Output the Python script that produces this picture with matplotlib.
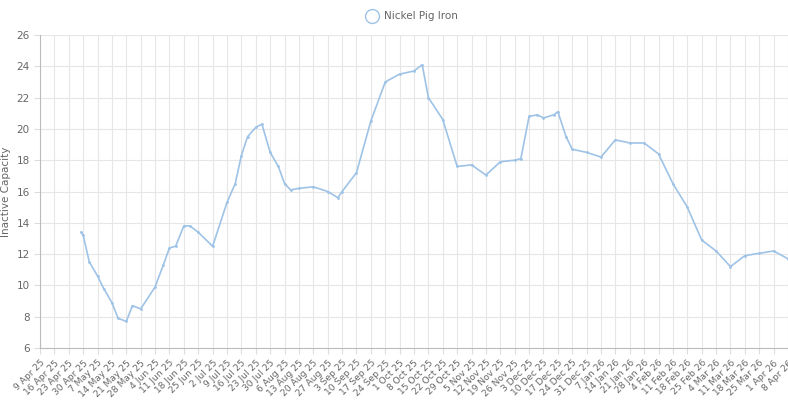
import matplotlib.pyplot as plt
import pandas as pd

dates = ['2025-04-29', '2025-04-30', '2025-05-03', '2025-05-07', '2025-05-10', '2025-05-14', '2025-05-17',
         '2025-05-21', '2025-05-24', '2025-05-28', '2025-06-04', '2025-06-08', '2025-06-11', '2025-06-14',
         '2025-06-18', '2025-06-21', '2025-06-25', '2025-07-02', '2025-07-09', '2025-07-13', '2025-07-16',
         '2025-07-19', '2025-07-23', '2025-07-26', '2025-07-30', '2025-08-03', '2025-08-06', '2025-08-09',
         '2025-08-13', '2025-08-20', '2025-08-27', '2025-09-01', '2025-09-03', '2025-09-10', '2025-09-17',
         '2025-09-24', '2025-10-01', '2025-10-08', '2025-10-12', '2025-10-15', '2025-10-22', '2025-10-29',
         '2025-11-05', '2025-11-12', '2025-11-19', '2025-11-26', '2025-11-29', '2025-12-03', '2025-12-07',
         '2025-12-10', '2025-12-15', '2025-12-17', '2025-12-21', '2025-12-24', '2025-12-31', '2026-01-07',
         '2026-01-14', '2026-01-21', '2026-01-28', '2026-02-04', '2026-02-11', '2026-02-18', '2026-02-25',
         '2026-03-04', '2026-03-11', '2026-03-18', '2026-03-25', '2026-04-01', '2026-04-08']
values = [13.4, 13.2, 11.5, 10.6, 9.8, 8.9, 7.9,
          7.7, 8.7, 8.5, 9.9, 11.3, 12.4, 12.5,
          13.8, 13.8, 13.4, 12.5, 15.3, 16.5, 18.3,
          19.5, 20.1, 20.3, 18.5, 17.6, 16.5, 16.1,
          16.2, 16.3, 16.0, 15.6, 16.0, 17.2, 20.5,
          23.0, 23.5, 23.7, 24.1, 22.0, 20.6, 17.6,
          17.7, 17.05, 17.9, 18.0, 18.1, 20.8, 20.9,
          20.7, 20.9, 21.1, 19.5, 18.7, 18.5, 18.2,
          19.3, 19.1, 19.1, 18.4, 16.5, 15.0, 12.9,
          12.2, 11.2, 11.9, 12.05, 12.2, 11.7]

start = pd.Timestamp('2025-04-09')
x = [(pd.Timestamp(d) - start).days for d in dates]
tick_dates = pd.date_range('2025-04-09', '2026-04-08', freq='7D')
tick_pos = [(d - start).days for d in tick_dates]
tick_labels = [f'{d.day} {d.strftime("%b")} {d.strftime("%y")}' for d in tick_dates]

fig = plt.figure(figsize=(7.88, 4), dpi=100)
ax = fig.add_axes([40 / 788, 52 / 400, 748 / 788, 313 / 400])
ax.plot(x, values, color='#9ec3e6', linewidth=1.2, marker='o', markersize=1.0,
        label='Nickel Pig Iron')
ax.set_xlim(0, 364)
ax.set_ylim(6, 26)
ax.set_yticks(range(6, 27, 2))
ax.set_xticks(tick_pos)
ax.set_xticklabels(tick_labels, rotation=45, ha='right', rotation_mode='anchor', fontsize=6.6, color='#666666')
ax.tick_params(axis='y', labelsize=7.5, colors='#666666')
ax.tick_params(length=4, color='#dddddd')
ax.grid(True, color='#e6e6e6', linewidth=0.8)
for s in ['top', 'right']:
    ax.spines[s].set_visible(False)
for s in ['left', 'bottom']:
    ax.spines[s].set_color('#bbbbbb')
ax.set_ylabel('Inactive Capacity', fontsize=7.5, color='#666666')
leg_h, = ax.plot([], [], 'o', markersize=10, markerfacecolor='white',
                 markeredgecolor='#9ec3e6', label='Nickel Pig Iron')
fig.legend(handles=[leg_h], loc='upper center', bbox_to_anchor=(0.52, 0.995), frameon=False,
           fontsize=7.5, labelcolor='#666666', handletextpad=0.2)
fig.savefig('out.png')
